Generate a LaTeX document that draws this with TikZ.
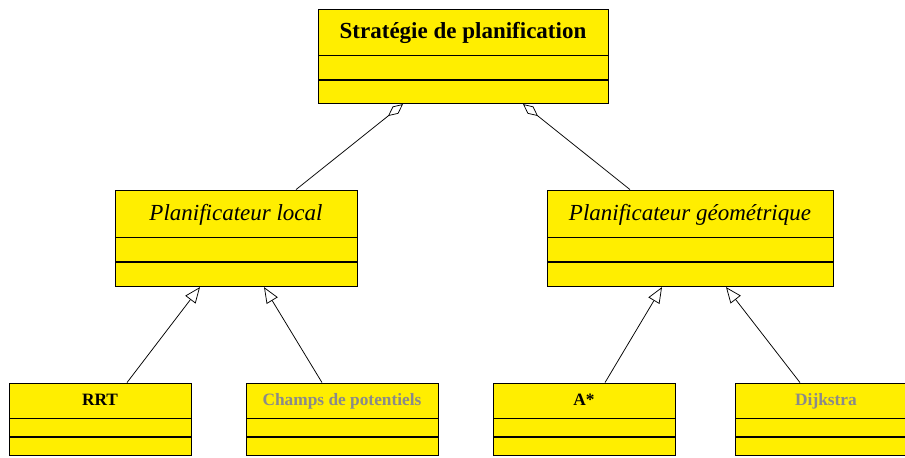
\documentclass[tikz,border=0pt]{standalone}
\usepackage{fontspec}
\setmainfont{Liberation Serif}
\usepackage{tikz}
\usetikzlibrary{positioning, arrows.meta}

\definecolor{umlyellow}{HTML}{FFEE00}
\definecolor{umlgray}{HTML}{8A8A8A}

\begin{document}
\begin{tikzpicture}[
x=0.6pt, y=-0.6pt,
every node/.style={draw, fill=umlyellow, inner sep=0pt, line width=0.5pt},
bigname/.style={font=\fontsize{13.8}{16}\selectfont, text height=10pt, text depth=2pt},
smallname/.style={font=\fontsize{10.4}{12}\selectfont\bfseries, text height=7.5pt, text depth=1.5pt},
agg/.style={{Diamond[open, length=11.5pt, width=5.5pt]}-, line width=0.45pt},
inherit/.style={-{Triangle[open, length=9.5pt, width=7.7pt]}, line width=0.45pt}
]
\useasboundingbox (0,0) rectangle (905,457);

% Nodes
\node (strat) [bigname, minimum width=174pt, minimum height=27.6pt] at (463,32) {\bfseries Stratégie de planification};
\node (strat2) [below=0pt of strat, minimum width=174pt, minimum height=14.4pt] {};
\node (strat3) [below=0pt of strat2, minimum width=174pt, minimum height=13.8pt] {};

\node (local) [bigname, minimum width=145.2pt, minimum height=28.2pt] at (236,213.5) {\itshape Planificateur local};
\node (local2) [below=0pt of local, minimum width=145.2pt, minimum height=14.4pt] {};
\node (local3) [below=0pt of local2, minimum width=145.2pt, minimum height=14.4pt] {};

\node (geom) [bigname, minimum width=171.6pt, minimum height=28.2pt] at (690,213.5) {\itshape Planificateur géométrique};
\node (geom2) [below=0pt of geom, minimum width=171.6pt, minimum height=14.4pt] {};
\node (geom3) [below=0pt of geom2, minimum width=171.6pt, minimum height=14.4pt] {};

\node (rrt) [smallname, minimum width=109.2pt, minimum height=21pt] at (100,400.5) {RRT};
\node (rrt2) [below=0pt of rrt, minimum width=109.2pt, minimum height=10.8pt] {};
\node (rrt3) [below=0pt of rrt2, minimum width=109.2pt, minimum height=10.8pt] {};

\node (champs) [smallname, text=umlgray, minimum width=115.2pt, minimum height=21pt] at (342,400.5) {Champs de potentiels};
\node (champs2) [below=0pt of champs, minimum width=115.2pt, minimum height=10.8pt] {};
\node (champs3) [below=0pt of champs2, minimum width=115.2pt, minimum height=10.8pt] {};

\node (astar) [smallname, minimum width=109.2pt, minimum height=21pt] at (584,400.5) {A*};
\node (astar2) [below=0pt of astar, minimum width=109.2pt, minimum height=10.8pt] {};
\node (astar3) [below=0pt of astar2, minimum width=109.2pt, minimum height=10.8pt] {};

\node (dijkstra) [smallname, text=umlgray, minimum width=109.2pt, minimum height=21pt] at (826,400.5) {Dijkstra};
\node (dijkstra2) [below=0pt of dijkstra, minimum width=109.2pt, minimum height=10.8pt] {};
\node (dijkstra3) [below=0pt of dijkstra2, minimum width=109.2pt, minimum height=10.8pt] {};

    % Arrows
    \draw[agg] ([xshift=-36pt]strat3.south) -- ([xshift=36pt]local.north);
    \draw[agg] ([xshift=36pt]strat3.south) -- ([xshift=-36pt]geom.north);
    \draw[inherit] ([xshift=16.2pt]rrt.north) -- ([xshift=-21.6pt]local3.south);
    \draw[inherit] ([xshift=-12pt]champs.north) -- ([xshift=16.8pt]local3.south);
    \draw[inherit] ([xshift=12.6pt]astar.north) -- ([xshift=-16.8pt]geom3.south);
    \draw[inherit] ([xshift=-15.6pt]dijkstra.north) -- ([xshift=21.6pt]geom3.south);
\end{tikzpicture}
\end{document}
